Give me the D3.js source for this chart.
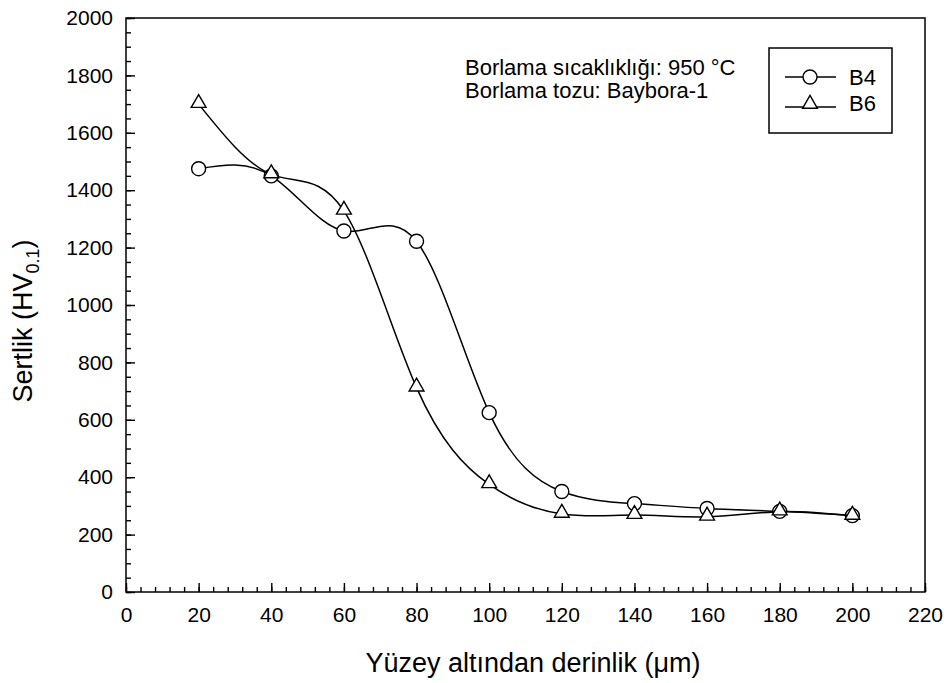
<!DOCTYPE html>
<html>
<head>
<meta charset="utf-8">
<script src="https://d3js.org/d3.v7.min.js"></script>
<style>
  body { margin: 0; background: #fff; }
  text { font-family: "Liberation Sans", Arial, sans-serif; fill: #000; }
</style>
</head>
<body>
<svg id="main_canvas" width="948" height="683"></svg>
<script>
    // depth below surface (micrometre)
    const depths = [20, 40, 60, 80, 100, 120, 140, 160, 180, 200];
    // hardness HV0.1
    const b4 = [1475, 1450, 1258, 1222, 625, 350, 308, 291, 281, 266];
    const b6 = [1700, 1455, 1328, 712, 375, 272, 268, 262, 280, 265];
    const seriesNames = ["B4", "B6"];
    const xTicks = d3.range(0, 221, 20);
    const yTicks = d3.range(0, 2001, 200);
    const notes = ["Borlama sıcaklıklığı: 950 °C", "Borlama tozu: Baybora-1"];

    const W = 948, H = 683;
    const margins = { left: 126, right: 23, top: 18, bottom: 91 };

    const svg = d3.select("#main_canvas");

    const x = d3.scaleLinear()
        .domain([0, 220])
        .range([margins.left, W - margins.right]);
    const y = d3.scaleLinear()
        .domain([0, 2000])
        .range([H - margins.bottom, margins.top]);

    // frame
    svg.append("rect")
        .attr("x", x(0)).attr("y", y(2000))
        .attr("width", x(220) - x(0)).attr("height", y(0) - y(2000))
        .attr("fill", "none").attr("stroke", "#000").attr("stroke-width", 1.5);

    // ticks point into the plot; minor every 4 on x, every 50 on y
    const xAxisMinor = d3.axisBottom(x).tickValues(d3.range(0, 221, 4)).tickSize(-5).tickFormat("");
    const xAxisMajor = d3.axisBottom(x).tickValues(xTicks).tickSize(-9).tickPadding(15).tickFormat(d3.format("d"));
    const gxMinor = svg.append("g").attr("transform", `translate(0,${y(0)})`).call(xAxisMinor);
    const gx = svg.append("g").attr("transform", `translate(0,${y(0)})`).call(xAxisMajor);

    const yAxisMinor = d3.axisLeft(y).tickValues(d3.range(0, 2001, 50)).tickSize(-5).tickFormat("");
    const yAxisMajor = d3.axisLeft(y).tickValues(yTicks).tickSize(-9).tickPadding(13).tickFormat(d3.format("d"));
    const gyMinor = svg.append("g").attr("transform", `translate(${x(0)},0)`).call(yAxisMinor);
    const gy = svg.append("g").attr("transform", `translate(${x(0)},0)`).call(yAxisMajor);

    [gx, gy, gxMinor, gyMinor].forEach(g => {
        g.select(".domain").remove();
        g.selectAll("line").attr("stroke", "#000").attr("stroke-width", 1.4);
        g.selectAll("text")
            .style("font-family", "'Liberation Sans', Arial, sans-serif")
            .style("font-size", "21px")
            .attr("fill", "#000");
    });

    // axis titles
    svg.append("text")
        .attr("x", 533)
        .attr("y", 672)
        .attr("text-anchor", "middle")
        .style("font-size", "27px")
        .text("Yüzey altından derinlik (μm)");

    const yt = svg.append("text")
        .attr("transform", `translate(32,321) rotate(-90)`)
        .attr("text-anchor", "middle")
        .style("font-size", "27px");
    yt.append("tspan").text("Sertlik (HV");
    yt.append("tspan").attr("dy", 7).style("font-size", "18px").text("0.1");
    yt.append("tspan").attr("dy", -7).text(")");

    const line = d3.line()
        .x((d, i) => x(depths[i]))
        .y(d => y(d))
        .curve(d3.curveNatural);

    const triPath = d3.symbol().type(d3.symbolTriangle).size(95);

    const drawSeries = (vals, shape) => {
        svg.append("path")
            .datum(vals)
            .attr("d", line)
            .attr("fill", "none")
            .attr("stroke", "#000")
            .attr("stroke-width", 1.5);
        const pts = svg.append("g")
            .selectAll("g")
            .data(vals)
            .join("g")
            .attr("transform", (d, i) => `translate(${x(depths[i])},${y(d)})`);
        if (shape === "circle") {
            pts.append("circle").attr("r", 7)
                .attr("fill", "#fff").attr("stroke", "#000").attr("stroke-width", 1.4);
        } else {
            pts.append("path").attr("d", triPath).attr("transform", "translate(0,-1)")
                .attr("fill", "#fff").attr("stroke", "#000").attr("stroke-width", 1.4);
        }
    };

    drawSeries(b4, "circle");
    drawSeries(b6, "triangle");

    // annotation
    svg.append("g")
        .selectAll("text")
        .data(notes)
        .join("text")
        .attr("x", 465)
        .attr("y", (d, i) => 75 + i * 23)
        .style("font-size", "22px")
        .text(d => d);

    // legend
    const legend = svg.append("g").attr("class", "legend");
    legend.append("rect")
        .attr("x", 769).attr("y", 48)
        .attr("width", 123).attr("height", 85)
        .attr("fill", "#fff").attr("stroke", "#000").attr("stroke-width", 1.5);

    legend.selectAll("g")
        .data(seriesNames)
        .join("g")
        .attr("transform", (d, i) => `translate(0, ${77 + i * 30})`)
        .call(g => {
            g.append("line")
                .attr("x1", 785).attr("x2", 836)
                .attr("y1", 0).attr("y2", 0)
                .attr("stroke", "#000").attr("stroke-width", 1.5);
        })
        .call(g => {
            g.filter((d, i) => i === 0).append("circle")
                .attr("cx", 810).attr("cy", 0).attr("r", 7)
                .attr("fill", "#fff").attr("stroke", "#000").attr("stroke-width", 1.4);
            g.filter((d, i) => i === 1).append("path")
                .attr("d", triPath)
                .attr("transform", "translate(810,-3)")
                .attr("fill", "#fff").attr("stroke", "#000").attr("stroke-width", 1.4);
        })
        .call(g => {
            g.append("text")
                .attr("x", 849)
                .attr("y", (d, i) => i === 0 ? 8 : 4)
                .style("font-size", "22px")
                .text(d => d);
        });
</script>
</body>
</html>
